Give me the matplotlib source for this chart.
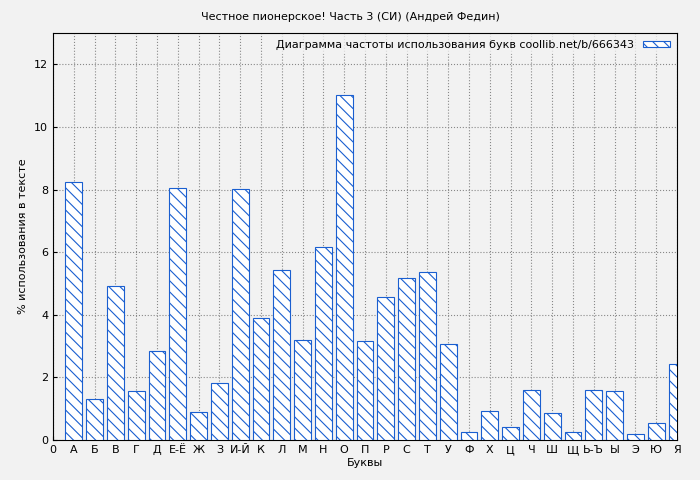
import matplotlib
matplotlib.use("Agg")
import matplotlib.pyplot as plt

letters = ["А","Б","В","Г","Д","Е-Ё","Ж","З","И-Й","К","Л","М","Н","О","П","Р","С","Т","У","Ф","Х","Ц","Ч","Ш","Щ","Ь-Ъ","Ы","Э","Ю","Я"]
values = [8.25,1.32,4.93,1.58,2.85,8.05,0.88,1.83,8.03,3.9,5.42,3.2,6.18,11.03,3.15,4.58,5.17,5.38,3.07,0.25,0.93,0.43,1.6,0.87,0.25,1.6,1.57,0.2,0.55,2.42]
tick_labels = ["0"] + letters

plt.rcParams['hatch.color'] = '#1a5fd0'
plt.rcParams['hatch.linewidth'] = 0.8
fig = plt.figure(figsize=(7, 4.8), dpi=100, facecolor='#f2f2f2')
ax = fig.add_axes([53/700, 40/480, 624/700, 407/480])
ax.set_facecolor('#f2f2f2')
x = list(range(1, len(letters)+1))
ax.bar(x, values, width=0.8, facecolor='white', edgecolor='#1a5fd0', hatch='\\\\\\', linewidth=0.8,
       label='Диаграмма частоты использования букв coollib.net/b/666343', zorder=3)
ax.set_xlim(0, 30)
ax.set_ylim(0, 13)
ax.set_xticks(range(0, 31))
ax.set_xticklabels(tick_labels, fontsize=8)
ax.set_yticks(range(0, 13, 2))
ax.tick_params(labelsize=8, direction='in', length=3)
ax.grid(True, color='#888888', linestyle=':', linewidth=0.8, zorder=0)
ax.set_xlabel('Буквы', fontsize=8, labelpad=2)
ax.set_ylabel('% использования в тексте', fontsize=8)
fig.suptitle('Честное пионерское! Часть 3 (СИ) (Андрей Федин)', fontsize=8, y=0.975)
leg = ax.legend(loc='upper right', fontsize=8, frameon=True, facecolor='#f2f2f2', edgecolor='none',
                markerfirst=False, handlelength=2.5, handleheight=0.5, borderaxespad=0.2)
fig.savefig('out.png', dpi=100, facecolor=fig.get_facecolor())
